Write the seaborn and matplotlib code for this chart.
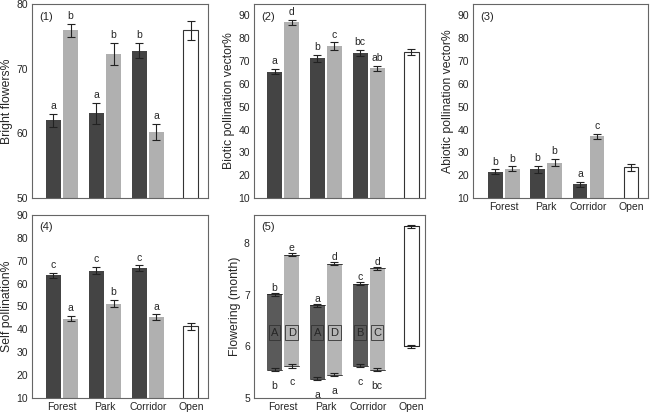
import matplotlib
matplotlib.use("Agg")
import matplotlib.pyplot as plt
import seaborn as sns
import pandas as pd

sites = ["Forest", "Park", "Corridor", "Open"]
groups = ["dark", "light"]

# panel 1: bright flowers %
bright_dark = [62.0, 63.1, 72.8]
bright_dark_err = [1.0, 1.6, 1.2]
bright_light = [75.9, 72.3, 60.2]
bright_light_err = [1.0, 1.7, 1.2]
bright_open, bright_open_err = 75.9, 1.4
bright_letters = [["a", "a", "b"], ["b", "b", "a"]]

# panel 2: biotic pollination vector %
biotic_dark = [65.4, 71.3, 73.6]
biotic_dark_err = [1.0, 1.5, 1.2]
biotic_light = [87.0, 76.5, 66.8]
biotic_light_err = [1.0, 1.7, 1.1]
biotic_open, biotic_open_err = 74.0, 1.3
biotic_letters = [["a", "b", "bc"], ["d", "c", "ab"]]

# panel 3: abiotic pollination vector %
abiotic_dark = [21.5, 22.6, 16.0]
abiotic_dark_err = [1.0, 1.5, 1.0]
abiotic_light = [22.8, 25.5, 37.0]
abiotic_light_err = [1.0, 1.5, 1.1]
abiotic_open, abiotic_open_err = 23.5, 1.5
abiotic_letters = [["b", "b", "a"], ["b", "b", "c"]]

# panel 4: self pollination %
self_dark = [63.6, 65.6, 66.8]
self_dark_err = [1.0, 1.6, 1.2]
self_light = [44.7, 51.3, 45.4]
self_light_err = [1.1, 1.7, 1.1]
self_open, self_open_err = 41.3, 1.5
self_letters = [["c", "c", "c"], ["a", "b", "a"]]

# panel 5: flowering period (start, end month)
flower_dark_start = [5.55, 5.37, 5.63]
flower_dark_end = [7.01, 6.80, 7.22]
flower_light_start = [5.62, 5.45, 5.55]
flower_light_end = [7.78, 7.60, 7.52]
flower_open_start, flower_open_end = 6.0, 8.33
flower_err = 0.03
flower_top_letters = [["b", "a", "c"], ["e", "d", "d"]]
flower_bottom_letters = [["b", "a", "c"], ["c", "a", "bc"]]
flower_mid_letters = [["A", "A", "B"], ["D", "D", "C"]]

DARK = "#444444"
LIGHT = "#b0b0b0"
DARK5 = "#5a5a5a"
LIGHT5 = "#b5b5b5"
FS = 7.5
LABEL_FS = 8.8

sns.set_style("white")
plt.rcParams["font.family"] = ["Liberation Sans", "DejaVu Sans"]
plt.rcParams["font.size"] = FS


def long_frame(dark, light):
    rows = []
    for g, vals in zip(groups, [dark, light]):
        for s, v in zip(sites[:3], vals):
            rows.append({"site": s, "group": g, "value": v})
    return pd.DataFrame(rows)


def style_axes(ax, ylim, yticks, ylabel, tag, xlabels):
    ax.set_ylim(*ylim)
    ax.set_yticks(yticks)
    ax.set_ylabel(ylabel, fontsize=LABEL_FS, labelpad=2)
    ax.set_xlabel("")
    ax.set_xticks(range(4))
    if xlabels:
        ax.set_xticklabels(sites, fontsize=FS)
    else:
        ax.set_xticklabels([])
    for sp in ax.spines.values():
        sp.set_color("#666666")
        sp.set_linewidth(0.8)
    ax.tick_params(axis="both", length=1.5, width=0.6, color="#666666",
                   labelsize=FS, pad=1.5)
    ax.text(0.04, 0.96, tag, transform=ax.transAxes, ha="left", va="top",
            fontsize=8)


def bar_panel(ax, dark, dark_err, light, light_err, open_val, open_err,
              letters, ylim, yticks, ylabel, tag, xlabels, xlim):
    df = long_frame(dark, light)
    sns.barplot(data=df, x="site", y="value", hue="group", order=sites,
                hue_order=groups, palette=[DARK, LIGHT], width=0.8, gap=0.125,
                saturation=1, errorbar=None, legend=False, linewidth=0, ax=ax)
    sns.barplot(x=["Open"], y=[open_val], order=sites, width=0.35,
                color="white", edgecolor="#333333", linewidth=0.8,
                saturation=1, errorbar=None, ax=ax)
    errs = [dark_err, light_err, [open_err]]
    labs = letters + [[None]]
    for cont, err, lab in zip(ax.containers, errs, labs):
        for p, e, l in zip(cont, err, lab):
            x = p.get_x() + p.get_width() / 2
            y = p.get_y() + p.get_height()
            ax.errorbar(x, y, yerr=e, color="#222222", capsize=2.6,
                        elinewidth=0.8, capthick=0.8)
            if l:
                ax.annotate(l, (x, y + e), xytext=(0, 2),
                            textcoords="offset points", ha="center",
                            va="bottom", fontsize=FS)
    ax.set_xlim(*xlim)
    style_axes(ax, ylim, yticks, ylabel, tag, xlabels)


fig = plt.figure(figsize=(6.5, 4.15), dpi=100)
ax1 = fig.add_axes([0.0492, 0.5229, 0.2708, 0.4675])
ax2 = fig.add_axes([0.3908, 0.5229, 0.2631, 0.4675])
ax3 = fig.add_axes([0.7277, 0.5229, 0.2692, 0.4675])
ax4 = fig.add_axes([0.0492, 0.0410, 0.2708, 0.4410])
ax5 = fig.add_axes([0.3908, 0.0410, 0.2631, 0.4410])

bar_panel(ax1, bright_dark, bright_dark_err, bright_light, bright_light_err,
          bright_open, bright_open_err, bright_letters, (50, 80),
          [50, 60, 70, 80], "Bright flowers%", "(1)", False, (-0.7, 3.4))
bar_panel(ax2, biotic_dark, biotic_dark_err, biotic_light, biotic_light_err,
          biotic_open, biotic_open_err, biotic_letters, (10, 95),
          range(10, 91, 10), "Biotic pollination vector%", "(2)", False,
          (-0.68, 3.32))
bar_panel(ax3, abiotic_dark, abiotic_dark_err, abiotic_light,
          abiotic_light_err, abiotic_open, abiotic_open_err, abiotic_letters,
          (10, 95), range(10, 91, 10), "Abiotic pollination vector%", "(3)",
          True, (-0.72, 3.4))
bar_panel(ax4, self_dark, self_dark_err, self_light, self_light_err,
          self_open, self_open_err, self_letters, (10, 90),
          range(10, 91, 10), "Self pollination%", "(4)", True, (-0.7, 3.4))

# panel 5: floating bars spanning the flowering period
df5 = long_frame(flower_dark_end, flower_light_end)
sns.barplot(data=df5, x="site", y="value", hue="group", order=sites,
            hue_order=groups, palette=[DARK5, LIGHT5], width=0.8, gap=0.125,
            saturation=1, errorbar=None, legend=False, linewidth=0, ax=ax5)
sns.barplot(x=["Open"], y=[flower_open_end], order=sites, width=0.35,
            color="white", edgecolor="#333333", linewidth=0.8, saturation=1,
            errorbar=None, ax=ax5)
starts = [flower_dark_start, flower_light_start, [flower_open_start]]
ends = [flower_dark_end, flower_light_end, [flower_open_end]]
tops = flower_top_letters + [[None]]
bottoms = flower_bottom_letters + [[None]]
mids = flower_mid_letters + [[None]]
fills = [DARK5, LIGHT5, "white"]
for cont, st, en, lt, lb, lm, fc in zip(ax5.containers, starts, ends, tops,
                                        bottoms, mids, fills):
    for p, s, e, t, b, m in zip(cont, st, en, lt, lb, lm):
        p.set_y(s)
        p.set_height(e - s)
        x = p.get_x() + p.get_width() / 2
        for yy in (s, e):
            ax5.errorbar(x, yy, yerr=flower_err, color="#222222",
                         capsize=2.6, elinewidth=0.8, capthick=0.8)
            ax5.plot([p.get_x(), p.get_x() + p.get_width()], [yy, yy],
                     color="#222222", lw=0.6)
        if t:
            ax5.annotate(t, (x, e + flower_err), xytext=(0, 0),
                         textcoords="offset points", ha="center",
                         va="bottom", fontsize=FS)
            ax5.annotate(b, (x, s - flower_err), xytext=(0, -7),
                         textcoords="offset points", ha="center", va="top",
                         fontsize=FS)
            ax5.text(x, 6.27, m, ha="center", va="center", fontsize=FS + 0.5,
                     bbox=dict(boxstyle="square,pad=0.2", fc=fc,
                               ec="#333333", lw=0.6))
ax5.set_xlim(-0.68, 3.32)
style_axes(ax5, (5, 8.55), [5, 6, 7, 8], "Flowering (month)", "(5)", True)

fig.savefig("out.png", dpi=100)
